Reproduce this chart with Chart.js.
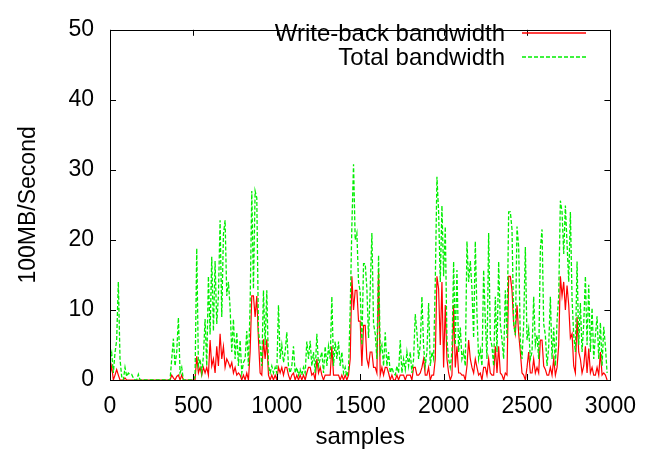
<!DOCTYPE html>
<html>
<head>
<meta charset="utf-8">
<script src="https://cdn.jsdelivr.net/npm/chart.js@4/dist/chart.umd.min.js"></script>
<style>
  html, body { margin: 0; padding: 0; background: #fff; }
  #wrap { width: 649px; height: 461px; }
</style>
</head>
<body>
<div id="wrap"><canvas id="bw" width="649" height="461"></canvas></div>
<script>
// sample index of each point
const samples = [
  0, 10, 20, 30, 40, 50, 60, 70, 80, 90,
  100, 110, 120, 130, 140, 150, 160, 170, 180, 190,
  200, 210, 220, 230, 240, 250, 260, 270, 280, 290,
  300, 310, 320, 330, 340, 350, 360, 370, 380, 390,
  400, 410, 420, 430, 440, 450, 460, 470, 480, 490,
  500, 510, 520, 530, 540, 550, 560, 570, 580, 590,
  600, 610, 620, 630, 640, 650, 660, 670, 680, 690,
  700, 710, 720, 730, 740, 750, 760, 770, 780, 790,
  800, 810, 820, 830, 840, 850, 860, 870, 880, 890,
  900, 910, 920, 930, 940, 950, 960, 970, 980, 990,
  1000, 1010, 1020, 1030, 1040, 1050, 1060, 1070, 1080, 1090,
  1100, 1110, 1120, 1130, 1140, 1150, 1160, 1170, 1180, 1190,
  1200, 1210, 1220, 1230, 1240, 1250, 1260, 1270, 1280, 1290,
  1300, 1310, 1320, 1330, 1340, 1350, 1360, 1370, 1380, 1390,
  1400, 1410, 1420, 1430, 1440, 1450, 1460, 1470, 1480, 1490,
  1500, 1510, 1520, 1530, 1540, 1550, 1560, 1570, 1580, 1590,
  1600, 1610, 1620, 1630, 1640, 1650, 1660, 1670, 1680, 1690,
  1700, 1710, 1720, 1730, 1740, 1750, 1760, 1770, 1780, 1790,
  1800, 1810, 1820, 1830, 1840, 1850, 1860, 1870, 1880, 1890,
  1900, 1910, 1920, 1930, 1940, 1950, 1960, 1970, 1980, 1990,
  2000, 2010, 2020, 2030, 2040, 2050, 2060, 2070, 2080, 2090,
  2100, 2110, 2120, 2130, 2140, 2150, 2160, 2170, 2180, 2190,
  2200, 2210, 2220, 2230, 2240, 2250, 2260, 2270, 2280, 2290,
  2300, 2310, 2320, 2330, 2340, 2350, 2360, 2370, 2380, 2390,
  2400, 2410, 2420, 2430, 2440, 2450, 2460, 2470, 2480, 2490,
  2500, 2510, 2520, 2530, 2540, 2550, 2560, 2570, 2580, 2590,
  2600, 2610, 2620, 2630, 2640, 2650, 2660, 2670, 2680, 2690,
  2700, 2710, 2720, 2730, 2740, 2750, 2760, 2770, 2780, 2790,
  2800, 2810, 2820, 2830, 2840, 2850, 2860, 2870, 2880, 2890,
  2900, 2910, 2920, 2930, 2940, 2950, 2960, 2970, 2980,
];

// total bandwidth, 100MB/s
const totalBw = [
  3, 3.9, 1, 3.9, 5.7, 14, 3, 0.5, 0, 1.8,
  0.5, 1, 0.8, 0.8, 0.3, 0, 0, 0.8, 0, 0,
  0, 0, 0, 0, 0, 0, 0, 0, 0, 0,
  0, 0, 0, 0, 0, 0, 0, 3, 5.9, 2,
  4, 8.9, 1, 1.8, 0, 0, 0, 0, 0, 0,
  0, 0.5, 18.8, 2, 3, 1, 3.4, 8.7, 2, 14.8,
  6.5, 17.6, 7, 17, 8, 12, 22.8, 9, 20.8, 22.8,
  12, 14, 10.3, 4, 8.7, 3, 6.8, 2, 5.7, 1,
  2.5, 3, 7, 2, 10.7, 27, 13, 27, 26, 7,
  5, 2, 12.8, 5, 12.8, 2, 1, 2, 1, 1.8,
  1, 10.7, 3, 5, 2.5, 4, 6.8, 2, 1, 2,
  4.8, 1, 1.8, 0.7, 1.5, 0.7, 1.8, 1, 5.5, 3,
  5.6, 2, 4, 1, 6.6, 2, 3, 4, 1, 4.8,
  2, 4.8, 3, 11.9, 2, 5.5, 3, 5.5, 2, 4,
  1, 1.8, 0.5, 1.5, 10, 22, 30.8, 20, 21, 14,
  12.6, 5, 16.6, 16.6, 13, 6, 13, 21, 8, 6.6,
  3, 17.8, 4, 5, 2, 6.8, 2, 4, 1, 1.8,
  1, 0.7, 2, 1, 5.7, 1, 3, 1.5, 4, 2,
  4, 1, 3, 9.4, 6.8, 3, 5, 11.9, 4.8, 2,
  4, 11, 2, 4, 3, 14, 29, 24, 14, 24.9,
  14.8, 21.9, 5.7, 3, 1.8, 4, 16.9, 5, 15.7, 4,
  7.5, 3, 4, 2, 19.8, 14, 17, 13, 6, 19.8,
  9.4, 3, 4.3, 2, 15.7, 8.4, 3, 21, 6, 4.8,
  2, 11.9, 4, 16.9, 8, 5.7, 3, 12.8, 6, 24,
  24, 21.5, 8, 6.4, 21.9, 19, 5.5, 3, 8, 19,
  5.7, 7.3, 3, 4, 11.9, 5, 6.4, 3, 18.7, 21.5,
  8, 6.4, 2, 4.8, 11.9, 3, 7.5, 2, 8.4, 12,
  25.6, 24, 18, 24.9, 19.4, 14, 24, 11.6, 6.4, 4,
  16.9, 5, 11, 4, 8, 14.8, 5, 13.6, 4, 10.3,
  3, 6.4, 9.1, 3, 8.2, 2, 7.6, 4.8, 1,
];

// write-back bandwidth, 100MB/s
const writeBackBw = [
  0.7, 2, 0, 0.7, 1.5, 0.7, 0, 0, 0, 0.3,
  0, 0, 0, 0, 0, 0, 0, 0, 0, 0,
  0, 0, 0, 0, 0, 0, 0, 0, 0, 0,
  0, 0, 0, 0, 0, 0, 0, 0.7, 0.3, 0,
  0.5, 0.7, 0, 0.7, 0, 0, 0, 0, 0, 0,
  0, 0, 3.4, 1, 1.8, 0.7, 1.8, 1, 1.8, 0.7,
  5.7, 2, 3, 1, 4.8, 2, 6.6, 3, 4.8, 1.8,
  3, 2.5, 1.8, 2.5, 1, 1.8, 0.7, 1, 0.7, 0,
  0.7, 0, 1, 0, 4, 12, 12, 9, 12, 5.8,
  1, 0.7, 5.8, 3, 5.8, 0.7, 0, 0.7, 0, 0.7,
  0, 1.8, 1, 1.8, 0.7, 1.8, 1.8, 0.7, 0, 0.7,
  1, 0, 0.7, 0, 0.7, 0, 0.7, 0, 1, 1.8,
  1.8, 0.7, 1, 0, 3, 1, 1.8, 0.7, 0, 0.7,
  0.7, 0.7, 0.7, 4.8, 0.7, 0.7, 0.7, 0.7, 0, 0.7,
  0, 0.7, 0, 0.7, 3, 14.8, 10, 12.8, 12.8, 8.4,
  8.4, 2, 7.8, 7.8, 3, 2, 4, 4, 1.8, 1.8,
  1, 15.5, 0.7, 1.8, 0.7, 1.8, 1.8, 1, 0, 0.7,
  0, 0, 0.7, 0, 0.7, 0.7, 0.7, 0, 0.7, 0.7,
  0.7, 0, 1.8, 1.8, 0.7, 0.7, 1, 1.8, 3, 0.7,
  0.7, 1.8, 0, 0.7, 0.7, 3, 14.8, 13, 5, 14,
  1.8, 10.7, 3, 1, 0, 0.7, 10.7, 1.8, 4.8, 1,
  1, 0.7, 0.7, 0, 2, 5.7, 3, 1.8, 1, 3,
  1.8, 0.7, 1, 0, 1.8, 1.8, 0.7, 3, 1, 0.7,
  0.7, 4.8, 1, 4.8, 1, 0.7, 0, 1, 0.7, 14.8,
  14.8, 12.8, 8, 6.6, 10.7, 6.6, 4, 1, 0.7, 0,
  1.8, 4, 1, 1, 3, 1, 1.8, 1, 5.7, 5.7,
  2, 1.5, 0.7, 0.7, 1.8, 0.7, 3, 0.7, 1.8, 5,
  14.8, 12, 14, 10, 13.5, 10.7, 6, 6.6, 2, 1,
  9, 4, 3, 1, 2, 4.8, 1, 4.5, 1, 1.8,
  0.7, 0.7, 1.8, 0.7, 4, 0.7, 1, 0.7, 0,
];

const xTicks = [0, 500, 1000, 1500, 2000, 2500, 3000];
const yTicks = [0, 10, 20, 30, 40, 50];
const seriesNames = ["Write-back bandwidth", "Total bandwidth"];

const FONT = "Liberation Sans, Arial, Helvetica, sans-serif";
const RED = "#ff0000";
const GREEN = "#00ee00";
const DASH = [4, 2];

Chart.defaults.color = "#000";
Chart.defaults.font.family = FONT;
Chart.defaults.font.size = 23;

function toPoints(ys) {
  return ys.map((y, i) => ({ x: samples[i], y }));
}

// gnuplot look: frame, inward ticks on all sides, key in the top right
const gnuplotFrame = {
  id: "gnuplotFrame",
  afterDraw(chart) {
    const { ctx, chartArea: a, scales } = chart;
    const x = scales.x, y = scales.y;
    const tl = 6;
    ctx.save();
    ctx.strokeStyle = "#000";
    ctx.lineWidth = 1;
    ctx.setLineDash([]);
    ctx.beginPath();
    for (const v of xTicks) {
      const px = Math.round(x.getPixelForValue(v)) + 0.5;
      ctx.moveTo(px, a.bottom);
      ctx.lineTo(px, a.bottom - tl);
      ctx.moveTo(px, a.top);
      ctx.lineTo(px, a.top + tl);
    }
    for (const v of yTicks) {
      const py = Math.round(y.getPixelForValue(v)) + 0.5;
      ctx.moveTo(a.left, py);
      ctx.lineTo(a.left + tl, py);
      ctx.moveTo(a.right, py);
      ctx.lineTo(a.right - tl, py);
    }
    ctx.stroke();
    ctx.strokeRect(Math.round(a.left) + 0.5, Math.round(a.top) + 0.5,
      Math.round(a.right - a.left), Math.round(a.bottom - a.top));
    ctx.restore();

    // key
    const rows = [
      { text: seriesNames[0], color: RED, dash: [], base: 41, line: 33 },
      { text: seriesNames[1], color: GREEN, dash: DASH, base: 65, line: 57 },
    ];
    for (const r of rows) {
      ctx.save();
      ctx.font = "24px " + FONT;
      ctx.fillStyle = "#000";
      ctx.textAlign = "right";
      ctx.textBaseline = "alphabetic";
      ctx.fillText(r.text, 505, r.base);
      ctx.restore();
      ctx.save();
      ctx.strokeStyle = r.color;
      ctx.lineWidth = 1.5;
      ctx.setLineDash(r.dash);
      ctx.beginPath();
      ctx.moveTo(522, r.line);
      ctx.lineTo(586, r.line);
      ctx.stroke();
      ctx.restore();
    }
  },
};

new Chart(document.getElementById("bw"), {
  type: "line",
  data: {
    datasets: [
      {
        label: seriesNames[1],
        data: toPoints(totalBw),
        borderColor: GREEN,
        borderWidth: 1.3,
        borderDash: DASH,
        pointRadius: 0,
        tension: 0,
        fill: false,
      },
      {
        label: seriesNames[0],
        data: toPoints(writeBackBw),
        borderColor: RED,
        borderWidth: 1.2,
        pointRadius: 0,
        tension: 0,
        fill: false,
      },
    ],
  },
  options: {
    responsive: false,
    animation: false,
    devicePixelRatio: 1,
    layout: { padding: { top: 15, right: 34, left: 0, bottom: 0 } },
    plugins: {
      legend: { display: false },
      tooltip: { enabled: false },
    },
    scales: {
      x: {
        type: "linear",
        min: 0,
        max: 3000,
        afterBuildTicks: (s) => (s.ticks = xTicks.map((v) => ({ value: v }))),
        afterFit: (s) => (s.height = 81),
        grid: { display: false, drawTicks: false },
        border: { display: false },
        ticks: { maxRotation: 0, autoSkip: false, padding: 13, callback: (v) => String(v) },
        title: { display: true, text: "samples", font: { size: 24 }, padding: { top: 0, bottom: 9 } },
      },
      y: {
        min: 0,
        max: 50,
        afterBuildTicks: (s) => (s.ticks = yTicks.map((v) => ({ value: v }))),
        afterFit: (s) => (s.width = 110),
        grid: { display: false, drawTicks: false },
        border: { display: false },
        ticks: { padding: 16, callback: (v) => String(v) },
        title: { display: true, text: "100MB/Second", font: { size: 23 }, padding: { top: 15, bottom: 0 } },
      },
    },
  },
  plugins: [gnuplotFrame],
});
</script>
</body>
</html>
